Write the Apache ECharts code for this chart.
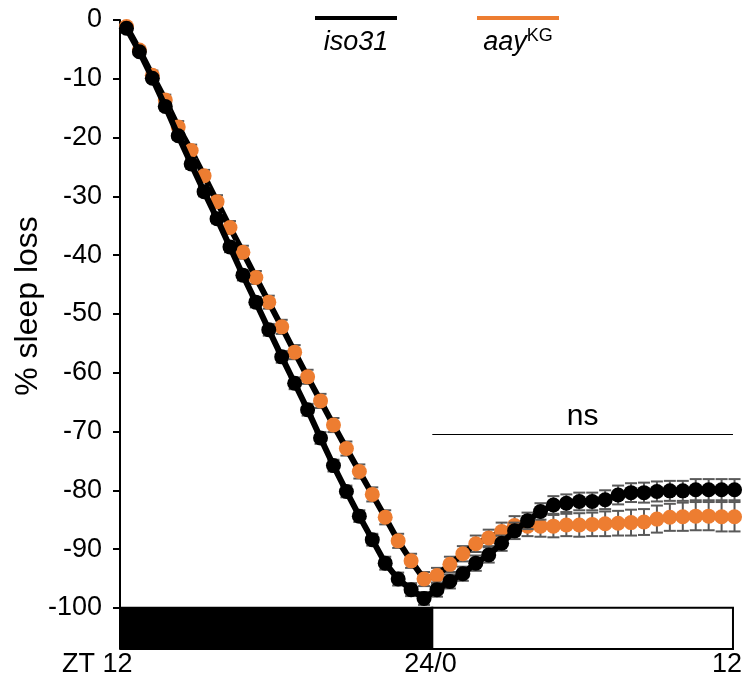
<!DOCTYPE html>
<html>
<head>
<meta charset="utf-8">
<script src="https://cdn.jsdelivr.net/npm/echarts@6/dist/echarts.min.js"></script>
<style>html,body{margin:0;padding:0;background:#fff}#c{width:747px;height:683px}</style>
</head>
<body>
<div id="c"></div>
<script>
// time bins (hours after ZT12, bin centres of 30-min bins)
const binMid = [0.25,0.75,1.25,1.75,2.25,2.75,3.25,3.75,4.25,4.75,5.25,5.75,6.25,6.75,7.25,7.75,8.25,8.75,9.25,9.75,10.25,10.75,11.25,11.75,
12.25,12.75,13.25,13.75,14.25,14.75,15.25,15.75,16.25,16.75,17.25,17.75,18.25,18.75,19.25,19.75,20.25,20.75,21.25,21.75,22.25,22.75,23.25,23.75];
const seriesNames = ['iso31', 'aayKG'];
const iso31 = [-1.4,-5.4,-9.9,-14.7,-19.7,-24.5,-29.2,-33.8,-38.6,-43.4,-48.0,-52.7,-57.3,-61.8,-66.3,-71.1,-75.8,-80.2,-84.4,-88.4,-92.4,-95.1,-96.9,-98.4,
-96.9,-95.5,-94.2,-92.4,-91.0,-89.0,-86.9,-85.2,-83.6,-82.5,-82.2,-81.9,-81.9,-81.6,-80.8,-80.4,-80.4,-80.2,-80.1,-80.1,-79.9,-79.9,-79.9,-79.9];
const iso31Err = [0.3,0.5,0.6,0.7,0.7,0.8,0.8,0.8,0.9,0.9,0.9,1.0,1.0,1.0,1.0,1.0,1.0,1.0,1.0,1.0,1.1,1.1,1.1,1.1,
1.2,1.2,1.2,1.3,1.3,1.3,1.4,1.4,1.4,1.5,1.5,1.5,1.5,1.6,1.6,1.6,1.7,1.7,1.7,1.7,1.8,1.8,1.8,1.8];
const aayKG = [-1.1,-5.1,-9.4,-13.6,-18.2,-22.2,-26.5,-30.9,-35.3,-39.5,-43.8,-48.0,-52.2,-56.5,-60.7,-64.8,-68.9,-72.9,-76.8,-80.7,-84.6,-88.6,-92.0,-95.1,
-94.5,-92.6,-90.8,-89.1,-88.1,-87.0,-86.0,-86.1,-86.1,-86.1,-85.9,-85.9,-85.8,-85.7,-85.6,-85.5,-85.4,-84.9,-84.6,-84.5,-84.4,-84.4,-84.5,-84.5];
const aayKGErr = [0.4,0.6,0.8,0.9,1.0,1.0,1.0,1.1,1.1,1.1,1.1,1.1,1.2,1.2,1.2,1.2,1.2,1.2,1.2,1.2,1.2,1.2,1.2,1.2,
1.3,1.3,1.3,1.4,1.4,1.5,1.6,1.7,1.8,1.9,1.9,2.0,2.0,2.1,2.1,2.2,2.2,2.3,2.3,2.4,2.4,2.4,2.5,2.5];
const yTicks = [0,-10,-20,-30,-40,-50,-60,-70,-80,-90,-100];
const xTickValues = [0, 12, 24];
const xTickLabels = ['ZT 12', '24/0', '12'];
// light/dark bar (hours)
const ldPhase = ['dark', 'light'];
const ldStart = [0.04, 12.07];
const ldEnd = [12.07, 23.69];
const ldTop = -100, ldBottom = -107;
// significance bracket
const nsText = 'ns';
const nsStart = 12.07, nsEnd = 23.69, nsY = -70.5;

const ORANGE = '#ED7D31';
const ERRC = '#595959';
const FONT = 'Liberation Sans, Arial, sans-serif';
const FS = 27;

function errData(vals, errs) {
  return vals.map((v, i) => [binMid[i], v - errs[i], v + errs[i]]);
}
function errRender(params, api) {
  const x = api.value(0);
  const lo = api.coord([x, api.value(1)]);
  const hi = api.coord([x, api.value(2)]);
  const hw = 6;
  const st = { stroke: ERRC, lineWidth: 2 };
  return { type: 'group', children: [
    { type: 'line', shape: { x1: lo[0], y1: lo[1], x2: hi[0], y2: hi[1] }, style: st },
    { type: 'line', shape: { x1: lo[0]-hw, y1: lo[1], x2: lo[0]+hw, y2: lo[1] }, style: st },
    { type: 'line', shape: { x1: hi[0]-hw, y1: hi[1], x2: hi[0]+hw, y2: hi[1] }, style: st }
  ]};
}

const chart = echarts.init(document.getElementById('c'), null, { renderer: 'canvas' });
chart.setOption({
  animation: false,
  backgroundColor: '#fff',
  grid: { left: 120, right: 6, top: 20, bottom: 34, containLabel: false },
  xAxis: {
    type: 'value', min: 0, max: 24,
    axisLine: { show: false }, axisTick: { show: false }, splitLine: { show: false },
    axisLabel: {
      customValues: xTickValues,
      margin: 2,
      color: '#000', fontFamily: FONT, fontSize: FS,
      formatter: function (v) {
        const i = xTickValues.indexOf(v);
        const t = xTickLabels[i];
        if (i === 0) return '{first|' + t + '}';
        if (i === xTickValues.length - 1) return '{last|' + t + '}';
        return t;
      },
      rich: {
        first: { width: 116, align: 'left', fontSize: FS, fontFamily: FONT, color: '#000' },
        last: { width: 58, align: 'left', fontSize: FS, fontFamily: FONT, color: '#000' }
      }
    }
  },
  yAxis: {
    type: 'value', min: ldBottom, max: 0,
    axisLine: { show: true, lineStyle: { color: '#000', width: 2 } },
    axisTick: { show: true, customValues: yTicks, length: 7, lineStyle: { color: '#000', width: 2 } },
    splitLine: { show: false },
    axisLabel: { customValues: yTicks, margin: 18, color: '#000', fontFamily: FONT, fontSize: FS }
  },
  series: [
    {
      type: 'custom', name: 'LD', z: 1,
      renderItem: function (params, api) {
        const p0 = api.coord([api.value(0), ldTop]);
        const p1 = api.coord([api.value(1), ldBottom]);
        const dark = api.value(2) === 0;
        return { type: 'rect', shape: { x: p0[0], y: p0[1], width: p1[0]-p0[0], height: p1[1]-p0[1] },
          style: { fill: dark ? '#000' : '#fff', stroke: '#000', lineWidth: 2 } };
      },
      data: ldPhase.map((p, i) => [ldStart[i], ldEnd[i], i]),
      clip: false,
      markLine: {
        silent: true, symbol: 'none',
        lineStyle: { color: '#000', width: 1, type: 'solid' },
        label: { show: true, position: 'middle', formatter: nsText, color: '#000', fontFamily: FONT, fontSize: 30, distance: 3 },
        data: [[{ coord: [nsStart, nsY] }, { coord: [nsEnd, nsY] }]]
      }
    },
    {
      type: 'custom', name: 'aayKG err', z: 2, renderItem: errRender,
      data: errData(aayKG, aayKGErr), encode: { x: 0, y: [1, 2] }
    },
    {
      type: 'line', name: seriesNames[1], z: 3,
      data: aayKG.map((v, i) => [binMid[i], v]),
      symbol: 'circle', symbolSize: 15,
      lineStyle: { color: '#000', width: 6 },
      itemStyle: { color: ORANGE, borderWidth: 0 }
    },
    {
      type: 'custom', name: 'iso31 err', z: 4, renderItem: errRender,
      data: errData(iso31, iso31Err), encode: { x: 0, y: [1, 2] }
    },
    {
      type: 'line', name: seriesNames[0], z: 5,
      data: iso31.map((v, i) => [binMid[i], v]),
      symbol: 'circle', symbolSize: 15,
      lineStyle: { color: '#000', width: 6 },
      itemStyle: { color: '#000', borderWidth: 0 }
    }
  ],
  graphic: [
    { type: 'line', shape: { x1: 315, y1: 18, x2: 397, y2: 18 }, style: { stroke: '#000', lineWidth: 4 } },
    { type: 'text', x: 356, y: 42, style: { text: seriesNames[0], fill: '#000', font: 'italic 27px ' + FONT, textAlign: 'center', textVerticalAlign: 'middle' } },
    { type: 'line', shape: { x1: 477, y1: 18, x2: 559, y2: 18 }, style: { stroke: ORANGE, lineWidth: 4 } },
    { type: 'text', x: 518, y: 42, style: {
        text: '{a|aay}{b|KG}', textAlign: 'center', textVerticalAlign: 'middle',
        rich: { a: { font: 'italic 27px ' + FONT, fill: '#000' }, b: { font: '18px ' + FONT, fill: '#000', padding: [0,0,12,0] } } } },
    { type: 'text', x: 28, y: 306, rotation: Math.PI/2, style: { text: '% sleep loss', fill: '#000', font: '32px ' + FONT, textAlign: 'center', textVerticalAlign: 'middle' } }
  ]
});
</script>
</body>
</html>
